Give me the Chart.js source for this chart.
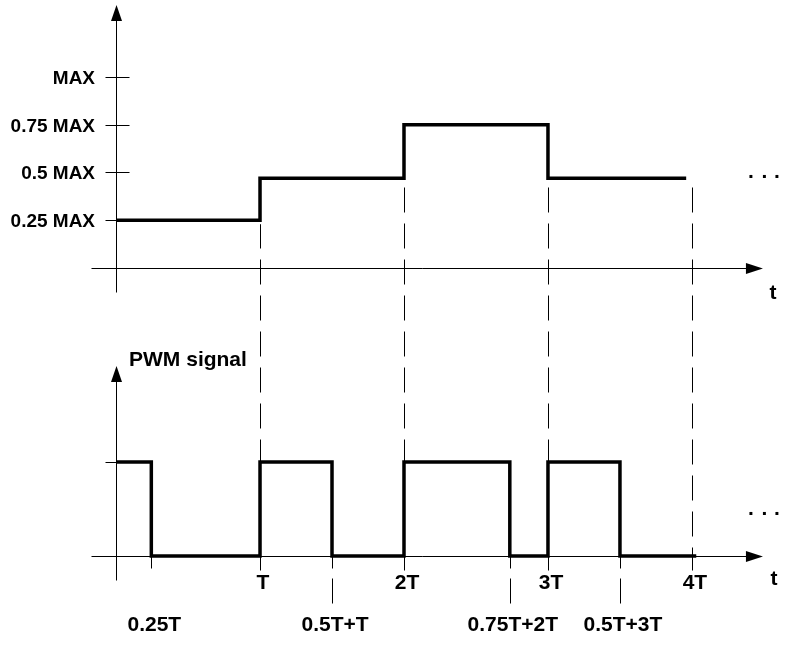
<!DOCTYPE html>
<html lang="en">
<head>
<meta charset="UTF-8">
<title>PWM signal</title>
<script src="https://cdn.jsdelivr.net/npm/chart.js@4.4.1/dist/chart.umd.min.js"></script>
<style>
	html, body { margin: 0; padding: 0; background: #fff; }
	canvas { display: block; }
</style>
</head>
<body>
<canvas id="pwm-chart" width="791" height="650"></canvas>
<script>
// Reference level (fraction of MAX), one level per period T
const refTimes = [0, 1, 2, 3, 3.96];
const refLevels = [0.25, 0.47, 0.75, 0.47, 0.47];

// PWM output: switching times (in T) and high/low state
const pwmTimes = [0, 0.245, 1, 1.5, 2, 2.735, 3, 3.5, 4.03];
const pwmLevels = [1, 0, 1, 0, 1, 0, 1, 0, 0];

// Tick values and labels
const levelTicks = [0.25, 0.5, 0.75, 1];
const levelLabels = ["0.25 MAX", "0.5 MAX", "0.75 MAX", "MAX"];
const pwmTicks = [1];
const periodTicks = [1, 2, 3, 4];
const periodLabels = ["T", "2T", "3T", "4T"];
const dutyTicks = [0.245, 1.5, 2.735, 3.5];
const dutyLabels = ["0.25T", "0.5T+T", "0.75T+2T", "0.5T+3T"];
const axisTitle = "t";
const pwmTitle = "PWM signal";

const FONT = '"Liberation Sans", Arial, sans-serif';

const toPoints = (times, levels) => times.map((t, i) => ({ x: t, y: levels[i] }));

// Level of the reference signal at time t
const levelAt = (t) => {
	let lvl = refLevels[0];
	refTimes.forEach((rt, i) => {
		if (rt <= t) lvl = refLevels[i];
	});
	return lvl;
};

const crisp = (v) => Math.round(v) + 0.5;

const drawLine = (ctx, x1, y1, x2, y2) => {
	ctx.beginPath();
	ctx.moveTo(x1, y1);
	ctx.lineTo(x2, y2);
	ctx.stroke();
};

const arrowUp = (ctx, x, y) => {
	ctx.beginPath();
	ctx.moveTo(x, y);
	ctx.lineTo(x - 5.5, y + 16);
	ctx.lineTo(x + 5.5, y + 16);
	ctx.closePath();
	ctx.fill();
};

const arrowRight = (ctx, x, y) => {
	ctx.beginPath();
	ctx.moveTo(x, y);
	ctx.lineTo(x - 17, y - 5.5);
	ctx.lineTo(x - 17, y + 5.5);
	ctx.closePath();
	ctx.fill();
};

// Axes, ticks and dashed guides (under the signals), labels on top
const axesPlugin = {
	id: "axes",
	beforeDatasetsDraw(chart) {
		const { ctx, scales } = chart;
		const { x, yTop, yPwm } = scales;
		const x0 = crisp(x.getPixelForValue(0));
		const xLeft = x0 - 25;
		const xTip = x.getPixelForValue(4) + 71;
		const topAxis = crisp(yTop.getPixelForValue(0));
		const pwmAxis = crisp(yPwm.getPixelForValue(0));

		ctx.save();
		ctx.strokeStyle = "#000";
		ctx.fillStyle = "#000";
		ctx.lineWidth = 1;

		// top panel axes
		const topTip = yTop.getPixelForValue(1) - 72;
		drawLine(ctx, xLeft, topAxis, xTip - 10, topAxis);
		arrowRight(ctx, xTip, topAxis);
		drawLine(ctx, x0, topAxis + 24, x0, topTip + 10);
		arrowUp(ctx, x0, topTip);
		levelTicks.forEach((v) => {
			const py = crisp(yTop.getPixelForValue(v));
			drawLine(ctx, x0 - 11, py, x0 + 13, py);
		});

		// bottom panel axes
		const pwmTip = yPwm.getPixelForValue(1) - 96;
		drawLine(ctx, xLeft, pwmAxis, xTip - 10, pwmAxis);
		arrowRight(ctx, xTip, pwmAxis);
		drawLine(ctx, x0, pwmAxis + 24, x0, pwmTip + 10);
		arrowUp(ctx, x0, pwmTip);
		pwmTicks.forEach((v) => {
			const py = crisp(yPwm.getPixelForValue(v));
			drawLine(ctx, x0 - 11, py, x0, py);
		});

		// dashed guides at every period, from the reference level down to the PWM axis
		const anchor = topAxis - 45;
		ctx.setLineDash([25, 11]);
		periodTicks.forEach((t) => {
			const px = crisp(x.getPixelForValue(t));
			const lower = Math.min(levelAt(t - 0.01), levelAt(t));
			const startY = yTop.getPixelForValue(lower) + 4;
			ctx.lineDashOffset = (((startY - anchor) % 36) + 36) % 36;
			drawLine(ctx, px, startY, px, pwmAxis + 14);
		});

		// short guides below the PWM axis at the switching instants
		ctx.lineDashOffset = 0;
		ctx.setLineDash([12, 10, 30]);
		dutyTicks.forEach((t, i) => {
			const px = crisp(x.getPixelForValue(t));
			const depth = i === 0 ? 13 : 47;
			drawLine(ctx, px, pwmAxis, px, pwmAxis + depth);
		});
		ctx.restore();
	},
	afterDatasetsDraw(chart) {
		const { ctx, scales } = chart;
		const { x, yTop, yPwm } = scales;
		const x0 = x.getPixelForValue(0);
		const xTip = x.getPixelForValue(4) + 71;
		const topAxis = yTop.getPixelForValue(0);
		const pwmAxis = yPwm.getPixelForValue(0);

		ctx.save();
		ctx.fillStyle = "#000";
		ctx.textBaseline = "alphabetic";

		// y tick labels of the reference panel
		ctx.font = `bold 19px ${FONT}`;
		ctx.textAlign = "right";
		levelTicks.forEach((v, i) => {
			ctx.fillText(levelLabels[i], x0 - 21, yTop.getPixelForValue(v) + 7);
		});

		ctx.font = `bold 21px ${FONT}`;
		ctx.textAlign = "center";
		ctx.fillText(axisTitle, xTip + 10, topAxis + 31);
		ctx.fillText(axisTitle, xTip + 11, pwmAxis + 29);

		// period and switching labels
		periodTicks.forEach((t, i) => {
			ctx.fillText(periodLabels[i], x.getPixelForValue(t) + 3, pwmAxis + 33);
		});
		dutyTicks.forEach((t, i) => {
			ctx.fillText(dutyLabels[i], x.getPixelForValue(t) + 3, pwmAxis + 75);
		});

		// continuation dots
		[751, 764.5, 777].forEach((dx) => {
			ctx.fillText(".", dx, yTop.getPixelForValue(0.5) + 6);
			ctx.fillText(".", dx, yPwm.getPixelForValue(0.5) + 6);
		});

		ctx.textAlign = "left";
		ctx.fillText(pwmTitle, x0 + 13, yPwm.getPixelForValue(1) - 96);
		ctx.restore();
	},
};

const ctx = document.getElementById("pwm-chart").getContext("2d");

const pwmChart = new Chart(ctx, {
	type: "line",
	data: {
		datasets: [
			{
				label: "Reference",
				data: toPoints(refTimes, refLevels),
				xAxisID: "x",
				yAxisID: "yTop",
				stepped: "before",
				borderColor: "#000",
				borderWidth: 3.5,
				borderJoinStyle: "miter",
				borderCapStyle: "butt",
				pointRadius: 0,
				fill: false,
			},
			{
				label: pwmTitle,
				data: toPoints(pwmTimes, pwmLevels),
				xAxisID: "x",
				yAxisID: "yPwm",
				stepped: "before",
				borderColor: "#000",
				borderWidth: 3.5,
				borderJoinStyle: "miter",
				borderCapStyle: "butt",
				pointRadius: 0,
				fill: false,
			},
		],
	},
	options: {
		responsive: false,
		animation: false,
		events: [],
		layout: { padding: 0 },
		scales: {
			x: { type: "linear", min: -0.806, max: 4.688, display: false },
			yTop: { type: "linear", min: -2.0, max: 1.403, display: false },
			yPwm: { type: "linear", min: -1.0, max: 5.915, display: false },
		},
		plugins: {
			legend: { display: false },
			tooltip: { enabled: false },
		},
	},
	plugins: [axesPlugin],
});
</script>
</body>
</html>
